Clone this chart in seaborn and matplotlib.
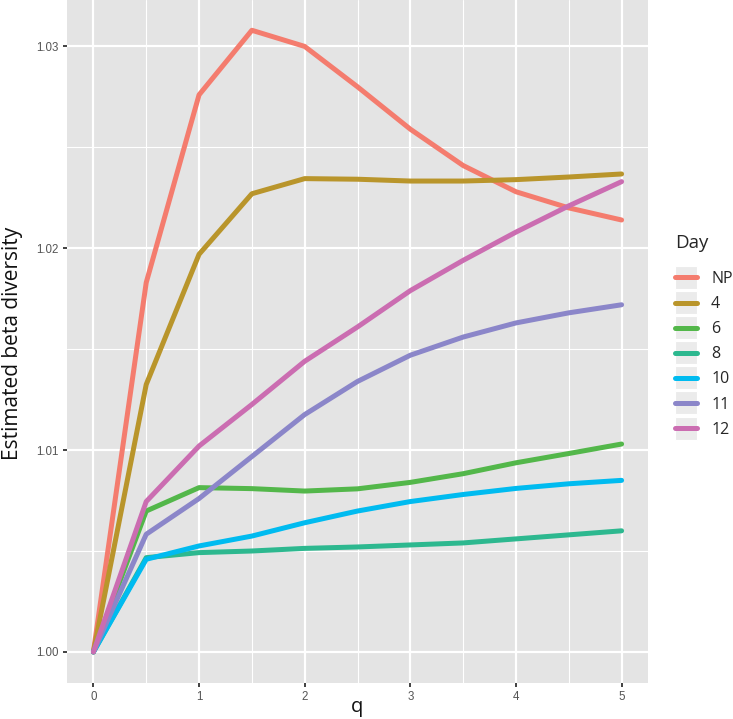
import numpy as np
import pandas as pd
import seaborn as sns
import matplotlib
matplotlib.use("Agg")
import matplotlib.pyplot as plt
from matplotlib.legend_handler import HandlerLine2D
from matplotlib.patches import Rectangle

q = [0, 0.5, 1, 1.5, 2, 2.5, 3, 3.5, 4, 4.5, 5]
day_order = ["NP", "4", "6", "8", "10", "11", "12"]
beta_NP = [1.0, 1.0183, 1.0276, 1.0308, 1.0300, 1.0280, 1.0259, 1.0241, 1.0228, 1.0220, 1.0214]
beta_4 = [1.0, 1.01325, 1.0197, 1.0227, 1.02345, 1.02342, 1.02333, 1.02333, 1.0234, 1.02353, 1.02368]
beta_6 = [1.0, 1.00698, 1.00814, 1.00809, 1.00797, 1.00808, 1.0084, 1.00883, 1.00937, 1.00983, 1.0103]
beta_8 = [1.0, 1.00467, 1.00492, 1.0050, 1.00513, 1.0052, 1.0053, 1.0054, 1.0056, 1.0058, 1.0060]
beta_10 = [1.0, 1.00459, 1.00525, 1.00574, 1.0064, 1.00698, 1.00745, 1.0078, 1.0081, 1.00833, 1.0085]
beta_11 = [1.0, 1.00583, 1.0076, 1.00968, 1.01176, 1.0134, 1.0147, 1.0156, 1.0163, 1.0168, 1.0172]
beta_12 = [1.0, 1.00745, 1.0102, 1.01226, 1.0144, 1.0161, 1.0179, 1.0194, 1.0208, 1.0221, 1.0233]
colors = ["#F47C6E", "#B9952B", "#53B74A", "#2DB88F", "#00BBF0", "#8B86C9", "#CB6DB1"]

series = [beta_NP, beta_4, beta_6, beta_8, beta_10, beta_11, beta_12]
df = pd.concat([pd.DataFrame({"q": q, "beta": s, "Day": d}) for d, s in zip(day_order, series)],
               ignore_index=True)

sns.set_theme(style="darkgrid")
plt.rcParams['font.family'] = ['Liberation Sans', 'DejaVu Sans']
label_font = ["Open Sans", "DejaVu Sans"]

fig = plt.figure(figsize=(7.33, 7.19), dpi=100)
ax = fig.add_axes([67/733, 1 - 683/719, (648-67)/733, 683/719])
ax.set_facecolor("#E4E4E4")

sns.lineplot(data=df, x="q", y="beta", hue="Day", hue_order=day_order,
             palette=colors, linewidth=3.6, ax=ax, legend=False, sort=False)

ax.set_xlim(-0.25, 5.25)
ax.set_ylim(0.99846, 1.0323)
ax.set_xticks([0, 1, 2, 3, 4, 5])
ax.set_xticklabels(["0", "1", "2", "3", "4", "5"])
ax.set_xticks([0.5, 1.5, 2.5, 3.5, 4.5], minor=True)
ax.set_yticks([1.00, 1.01, 1.02, 1.03])
ax.set_yticklabels(["1.00", "1.01", "1.02", "1.03"])
ax.set_yticks([1.005, 1.015, 1.025], minor=True)
ax.grid(which="major", color="white", linewidth=1.6)
ax.grid(which="minor", color="white", linewidth=0.8)
ax.tick_params(which="major", length=3.2, width=1.3, color="#333333",
               labelsize=8.3, labelcolor="#555555", pad=2.8, bottom=True, left=True)
ax.tick_params(which="minor", length=0)
for s in ax.spines.values():
    s.set_visible(False)

ax.set_xlabel("q", family=label_font, fontsize=14.5, color="#111111")
ax.xaxis.set_label_coords(0.5 + (357 - 357.5) / 581, (683 - 712) / 683)
ax.xaxis.label.set_va("baseline")
ax.set_ylabel("Estimated beta diversity", family=label_font, fontsize=15, color="#111111")
ax.yaxis.set_label_coords((18 - 67) / 581, 0.497)
ax.yaxis.label.set_va("baseline")


class KeyHandler(HandlerLine2D):
    def create_artists(self, legend, orig_handle, xdescent, ydescent, width, height, fontsize, trans):
        cy = -ydescent + height / 2.0
        box = 16.6
        rect = Rectangle((-xdescent - 0.3, cy - box / 2), width + 0.6, box,
                         facecolor="#EBEBEB", edgecolor="white", linewidth=0.8, transform=trans)
        arts = super().create_artists(legend, orig_handle, xdescent, ydescent, width, height, fontsize, trans)
        return [rect] + arts


handles = [plt.Line2D([], [], color=c, linewidth=3.6) for c in colors]
leg = fig.legend(handles, day_order, title="Day", loc="upper left",
                 bbox_to_anchor=(675/733, 1 - 234/719), frameon=False,
                 borderpad=0, borderaxespad=0,
                 handlelength=1.38, handletextpad=0.88, labelspacing=0.57,
                 prop={"family": label_font, "size": 11.5},
                 handler_map={plt.Line2D: KeyHandler()})
leg.get_title().set_fontfamily(label_font)
leg.get_title().set_fontsize(13.5)
leg._legend_box.align = "left"
leg._legend_box.sep = 13.7

fig.savefig("out.png", dpi=100)
